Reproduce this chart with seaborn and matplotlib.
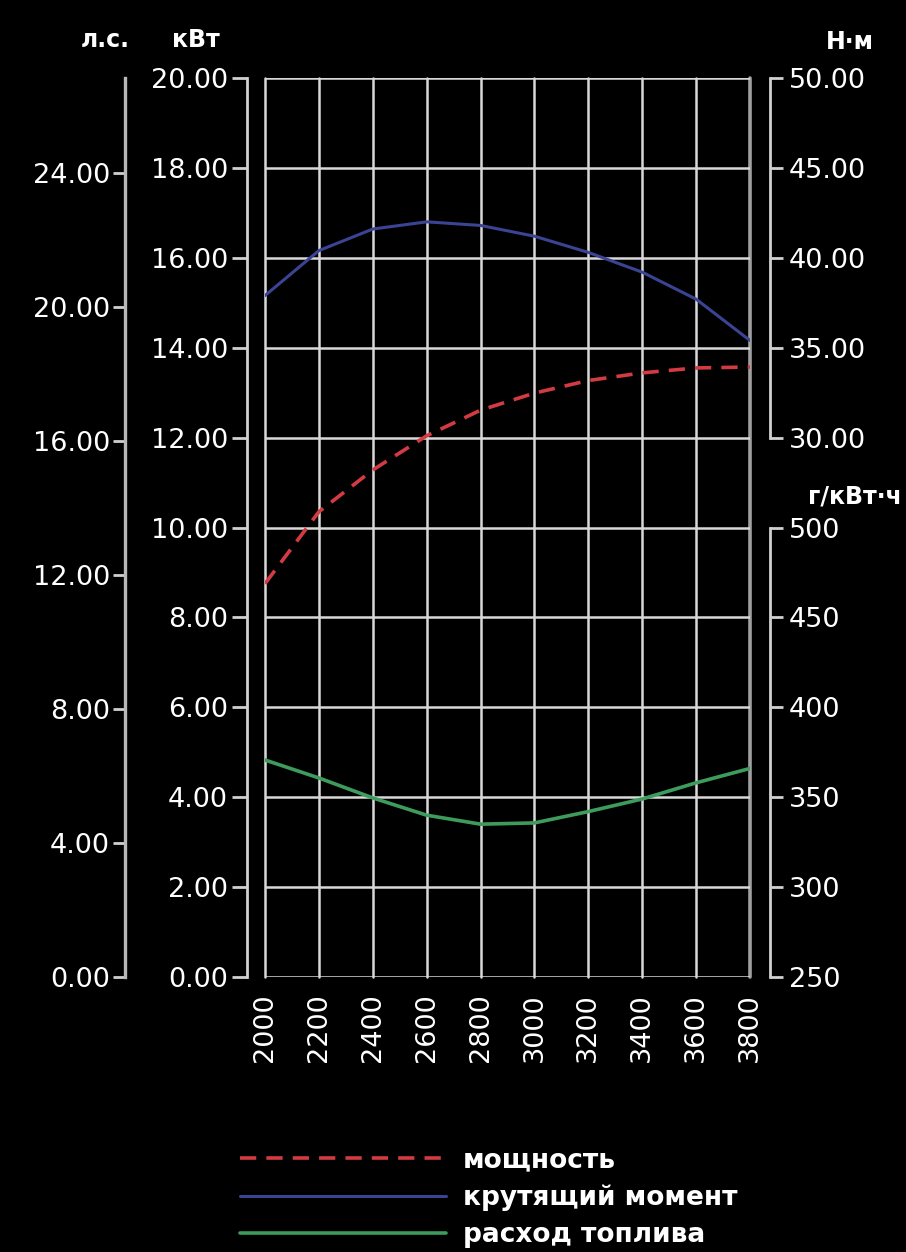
import matplotlib
matplotlib.use('Agg')
import matplotlib.pyplot as plt
import seaborn as sns
import pandas as pd

# engine characteristic
rpm = [2000, 2200, 2400, 2600, 2800, 3000, 3200, 3400, 3600, 3800]
power_kw = [8.75, 10.35, 11.28, 12.04, 12.61, 12.99, 13.27, 13.44, 13.55, 13.57]
torque_nm = [37.9, 40.4, 41.6, 42.0, 41.8, 41.2, 40.3, 39.2, 37.7, 35.4]
fuel_g = [370.7, 360.7, 349.6, 340.0, 335.0, 335.7, 342.0, 349.0, 358.0, 366.0]

kw_ticks = [0, 2, 4, 6, 8, 10, 12, 14, 16, 18, 20]
hp_ticks = [0, 4, 8, 12, 16, 20, 24]
nm_ticks = [30, 35, 40, 45, 50]
g_ticks = [250, 300, 350, 400, 450, 500]
KW_TO_HP = 1.341

labels = ['мощность', 'крутящий момент', 'расход топлива']

df = pd.DataFrame({'rpm': rpm, 'power': power_kw, 'torque': torque_nm, 'fuel': fuel_g})

sns.set_theme(style='dark', rc={'axes.facecolor': 'black', 'figure.facecolor': 'black',
                                'text.color': 'white', 'xtick.color': 'white',
                                'ytick.color': 'white', 'axes.edgecolor': '#d0d0d0'})
plt.rcParams['font.family'] = ['DejaVu Sans']

W, H = 906, 1252
fig = plt.figure(figsize=(W / 100, H / 100), dpi=100)
ax = fig.add_axes([265 / W, 1 - 977 / H, 485 / W, 899 / H])

PX = 0.72  # points per pixel
spine_col = '#d0d0d0'
fs = 19.5

# power on the kW axis
sns.lineplot(data=df, x='rpm', y='power', ax=ax, color='#d23b42', lw=2.6,
             label=labels[0], legend=False)
ax.lines[0].set_dashes((4.5, 2.8))
ax.set_xlim(2000, 3800)
ax.set_ylim(0, 20)
ax.set_xticks(rpm)
ax.set_yticks(kw_ticks)
ax.set_yticklabels([f'{v:.2f}' for v in kw_ticks])
ax.grid(True, color='#d8d8d8', lw=1.8)
for ln in ax.get_xgridlines() + ax.get_ygridlines():
    ln.set_clip_on(False)
ax.get_xgridlines()[-1].set_color('#a0a0a0')
ax.get_xgridlines()[-1].set_linewidth(2.6)
for s in ['top', 'right', 'bottom']:
    ax.spines[s].set_visible(False)
ax.spines['left'].set_position(('outward', 18 * PX))
ax.spines['left'].set_color(spine_col)
ax.spines['left'].set_linewidth(2)
ax.tick_params(axis='y', direction='out', length=15 * PX, width=2, color=spine_col,
               labelsize=fs, pad=4 * PX, labelcolor='white')
ax.tick_params(axis='x', length=0, labelsize=fs, pad=16 * PX, labelrotation=90,
               labelcolor='white')
ax.set_xlabel('')
ax.set_ylabel('')

# horse power axis, far left
ax_hp = ax.twinx()
ax_hp.set_ylim(0, 20 * KW_TO_HP)
ax_hp.yaxis.set_ticks_position('left')
ax_hp.spines['left'].set_visible(True)
ax_hp.spines['right'].set_visible(False)
ax_hp.spines['top'].set_visible(False)
ax_hp.spines['bottom'].set_visible(False)
ax_hp.spines['left'].set_position(('outward', 140 * PX))
ax_hp.spines['left'].set_color('#b8b8b8')
ax_hp.spines['left'].set_linewidth(2.4)
ax_hp.set_yticks(hp_ticks)
ax_hp.set_yticklabels([f'{v:.2f}' for v in hp_ticks])
ax_hp.tick_params(axis='y', direction='out', length=12 * PX, width=2, color=spine_col,
                  labelsize=fs, pad=3 * PX, labelcolor='white')
ax_hp.grid(False)

# torque axis, upper right
ax_nm = ax.twinx()
sns.lineplot(data=df, x='rpm', y='torque', ax=ax_nm, color='#3b4494', lw=2.2,
             label=labels[1], legend=False)
ax_nm.set_ylim(0, 50)
ax_nm.set_yticks(nm_ticks)
ax_nm.set_yticklabels([f'{v:.2f}' for v in nm_ticks])
for s in ['top', 'left', 'bottom']:
    ax_nm.spines[s].set_visible(False)
ax_nm.spines['right'].set_position(('outward', 20 * PX))
ax_nm.spines['right'].set_bounds(30, 50)
ax_nm.spines['right'].set_color(spine_col)
ax_nm.spines['right'].set_linewidth(2)
ax_nm.tick_params(axis='y', direction='out', length=13 * PX, width=2, color=spine_col,
                  labelsize=fs, pad=6 * PX, labelcolor='white')
ax_nm.grid(False)
ax_nm.set_ylabel('')

# fuel consumption axis, lower right
ax_g = ax.twinx()
sns.lineplot(data=df, x='rpm', y='fuel', ax=ax_g, color='#3d9c5c', lw=2.6,
             label=labels[2], legend=False)
ax_g.set_ylim(250, 750)
ax_g.set_yticks(g_ticks)
ax_g.set_yticklabels([f'{v:d}' for v in g_ticks])
for s in ['top', 'left', 'bottom']:
    ax_g.spines[s].set_visible(False)
ax_g.spines['right'].set_position(('outward', 20 * PX))
ax_g.spines['right'].set_bounds(250, 500)
ax_g.spines['right'].set_color(spine_col)
ax_g.spines['right'].set_linewidth(2)
ax_g.tick_params(axis='y', direction='out', length=13 * PX, width=2, color=spine_col,
                 labelsize=fs, pad=6 * PX, labelcolor='white')
ax_g.grid(False)
ax_g.set_ylabel('')
ax_g.set_xlim(2000, 3800)

# unit captions
fig.text(105 / W, 1 - 40 / H, 'л.с.', fontsize=17, fontweight='bold', ha='center', va='center')
fig.text(196 / W, 1 - 40 / H, 'кВт', fontsize=17, fontweight='bold', ha='center', va='center')
fig.text(850 / W, 1 - 42 / H, 'Н·м', fontsize=17, fontweight='bold', ha='center', va='center')
fig.text(808 / W, 1 - 496 / H, 'г/кВт·ч', fontsize=17, fontweight='bold', ha='left', va='center')

handles = ax.lines[:1] + ax_nm.lines[:1] + ax_g.lines[:1]
fig.legend(handles, labels, loc='center left', bbox_to_anchor=(240 / W, 1 - 1198 / H),
           frameon=False, handlelength=7.8, handletextpad=0.64, labelspacing=0.42,
           borderpad=0, borderaxespad=0, prop={'size': 19, 'weight': 'bold'},
           labelcolor='white')

fig.savefig('out.png', dpi=100, facecolor='black')
